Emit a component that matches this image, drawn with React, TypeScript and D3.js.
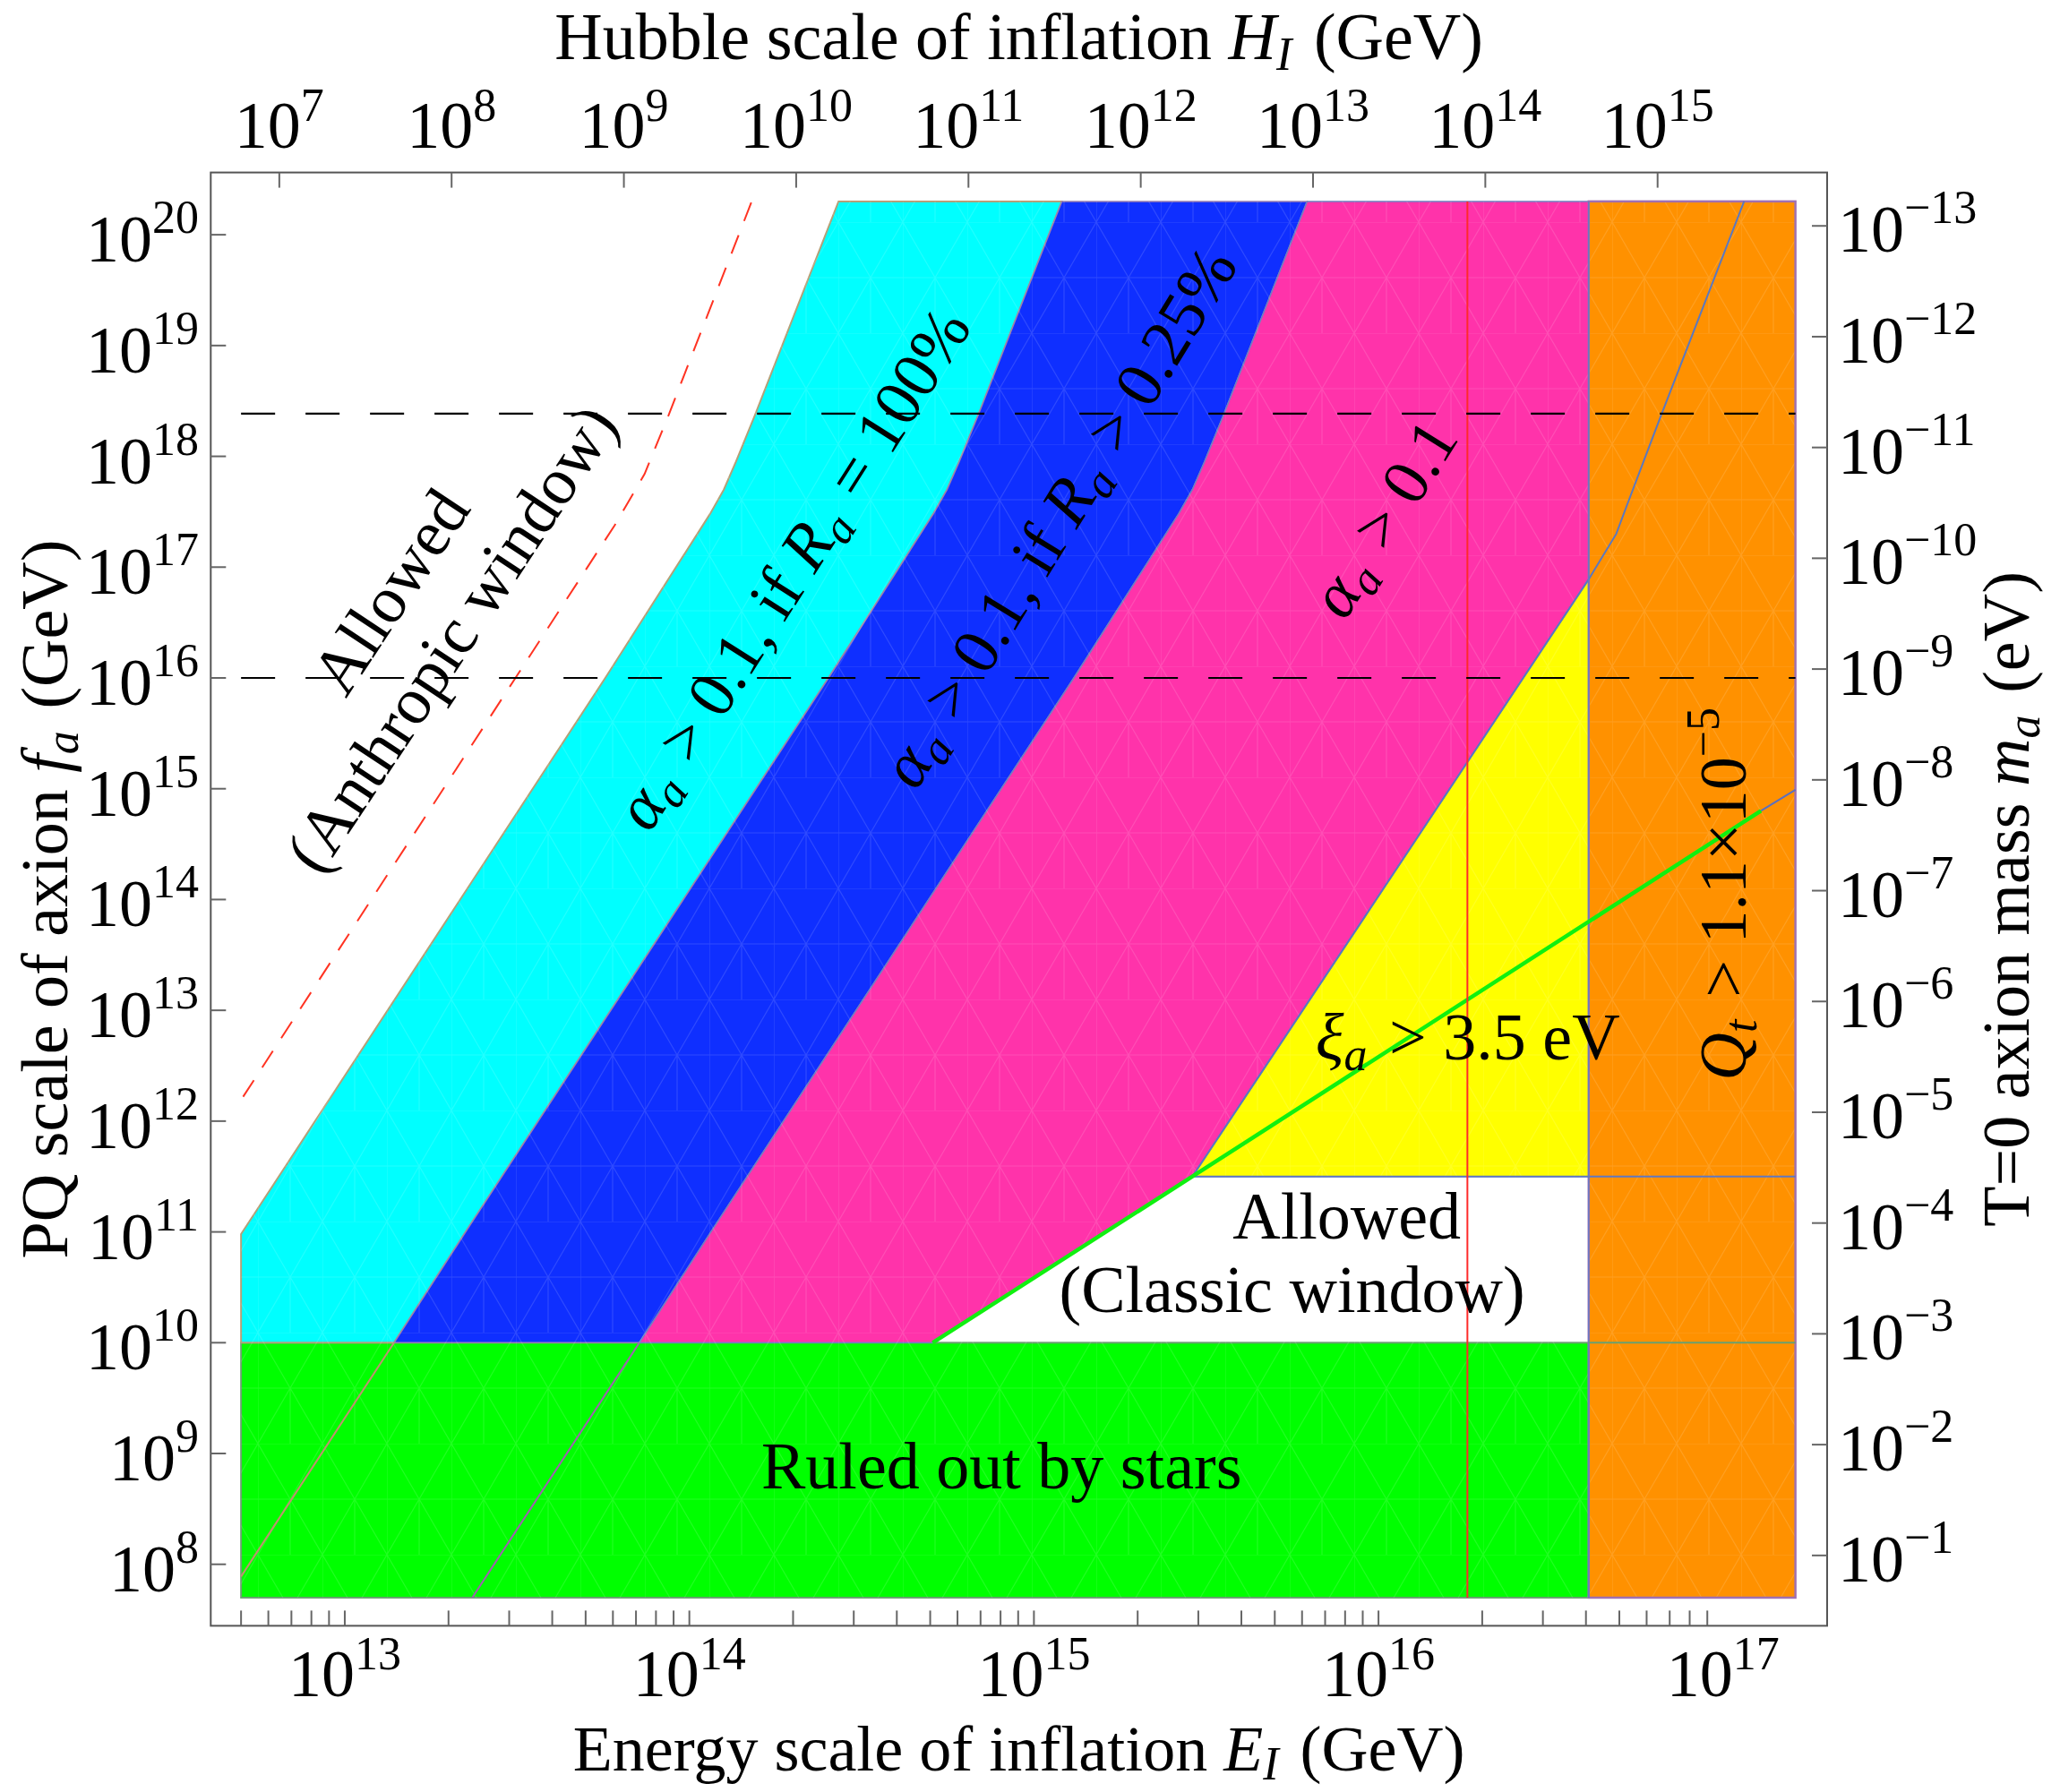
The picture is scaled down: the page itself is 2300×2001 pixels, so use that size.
import * as d3 from "d3";

// frame limits, log10 units
const energyFrame = [12.611, 17.302];
const faFrame = [7.445, 20.562];
// plotted data limits, log10 units
const energyData = [12.699, 17.21];
const faData = [7.699, 20.301];

const energyMajor = [13, 14, 15, 16, 17];
const hubbleMajor = [7, 8, 9, 10, 11, 12, 13, 14, 15];
const faMajor = [8, 9, 10, 11, 12, 13, 14, 15, 16, 17, 18, 19, 20];
const massMajor = [-13, -12, -11, -10, -9, -8, -7, -6, -5, -4, -3, -2, -1];
const hubbleOffset = 18.62; // log E = (log H + 18.62) / 2
const massOffset = 7.08; // log m_a = 7.08 - log f_a

// constraints (log10 E_I, log10 f_a)
const starBound = 10;
const qtBound = 16.61;
const classicTop = 11.5;
const bicepEnergy = 16.258;
const planckFa = 18.386;
const gutFa = 16;

const isoR100 = [[12.699, 10.98], [13.756, 16.0], [14.06, 17.48], [14.1, 17.7], [14.135, 17.95], [14.19, 18.37], [14.433, 20.301]];
const isoR025 = [[12.699, 7.89], [13.143, 10.0], [13.357, 11.03], [14.404, 16.0], [14.708, 17.48], [14.748, 17.7], [14.783, 17.95], [14.838, 18.37], [15.081, 20.301]];
const isoAny = [[13.37, 7.699], [13.855, 10.0], [14.069, 11.03], [15.116, 16.0], [15.42, 17.48], [15.46, 17.7], [15.495, 17.95], [15.55, 18.37], [15.793, 20.301]];
const isoClassic = [[15.46, 11.5], [16.61, 16.89], [16.69, 17.3], [16.72, 17.55], [16.82, 18.37], [17.061, 20.301]];
const xiLine = [[14.706, 10.0], [15.46, 11.5], [17.11, 14.8]];
const xiTail = [[17.11, 14.8], [17.21, 14.99]];
const anthropic = [[12.705, 12.22], [13.783, 17.376], [13.87, 17.84], [13.94, 18.374], [14.181, 20.301]];

const FONT = "Liberation Serif, Times New Roman, serif";
const FS = 74;
const SUP = 52;

export default function App() {
  const x = d3.scaleLog().domain(energyFrame.map((v) => 10 ** v)).range([235.3, 2040]);
  const y = d3.scaleLog().domain(faFrame.map((v) => 10 ** v)).range([1815.4, 192.6]);
  const X = (le: number) => x(10 ** le);
  const Y = (lf: number) => y(10 ** lf);
  const line = d3.line<number[]>().x((d) => X(d[0])).y((d) => Y(d[1]));
  const poly = (pts: number[][]) => (line(pts) || "") + "Z";

  const [e0, e1] = energyData;
  const [f0, f1] = faData;
  const above = (pts: number[][]) => pts.filter((p) => p[1] >= starBound);

  const cyanPts = [[e0, starBound], ...isoR100, ...above(isoR025).reverse()];
  const bluePts = [...above(isoR025), ...above(isoAny).reverse()];
  const classicLeft = isoClassic.filter((p) => p[0] <= qtBound);
  const pinkPts = [
    ...above(isoAny),
    [qtBound, f1],
    ...classicLeft.slice().reverse(),
    [xiLine[0][0], xiLine[0][1]],
  ];
  const yellowPts = [...classicLeft, [qtBound, classicTop]];

  const [fx0, fx1] = x.range();
  const [fy1, fy0] = y.range();

  const minor: number[] = [];
  for (let n = 12; n <= 16; n++) {
    for (let k = 1; k <= 9; k++) {
      const v = k * 10 ** n;
      if (v >= 4.99e12 && v <= 1.01e17) minor.push(v);
    }
  }

  const sub = (s: string, d = 12) => (
    <>
      <tspan fontStyle="italic" fontSize={SUP} dy={d}>{s}</tspan>
      <tspan dy={-d}>{"\u200a"}</tspan>
    </>
  );

  const labelRot = (le: number, lf: number, angle: number, content: any, key: string) => (
    <text
      key={key}
      transform={`translate(${X(le)},${Y(lf)}) rotate(${angle})`}
      textAnchor="middle"
      dy="0.35em"
      fontSize={FS}
      fontFamily={FONT}
    >
      {content}
    </text>
  );

  return (
    <svg width={2300} height={2001} style={{ position: "absolute", left: 0, top: 0, background: "#fff" }}>
      <defs>
        <pattern id="mesh" width={72} height={124} patternUnits="userSpaceOnUse">
          <path d="M0,0H72M0,62H72M0,0V124M0,124L36,62L72,0M0,0L36,62L72,124M36,62V124" stroke="#fff" strokeWidth={1.2} fill="none" />
        </pattern>
        <clipPath id="dataClip">
          <rect x={X(e0)} y={Y(f1)} width={X(e1) - X(e0)} height={Y(f0) - Y(f1)} />
        </clipPath>
      </defs>

      {/* regions */}
      <rect x={X(e0)} y={Y(starBound)} width={X(qtBound) - X(e0)} height={Y(f0) - Y(starBound)} fill="#00ff00" stroke="#6aa070" strokeWidth={2} />
      <path d={poly(cyanPts)} fill="#00ffff" stroke="#b4a078" strokeWidth={2} />
      <path d={poly(bluePts)} fill="#0f2fff" stroke="#9a80b0" strokeWidth={1.5} />
      <path d={poly(pinkPts)} fill="#ff33aa" stroke="#7080c0" strokeWidth={1.5} />
      <path d={poly(yellowPts)} fill="#ffff00" stroke="#6080c0" strokeWidth={1.5} />
      <rect x={X(qtBound)} y={Y(f1)} width={X(e1) - X(qtBound)} height={Y(f0) - Y(f1)} fill="#ff9100" />
      <rect clipPath="url(#dataClip)" x={X(e0)} y={Y(f1)} width={X(e1) - X(e0)} height={Y(f0) - Y(f1)} fill="url(#mesh)" opacity={0.13} />
      <rect x={X(qtBound)} y={Y(f1)} width={X(e1) - X(qtBound)} height={Y(f0) - Y(f1)} fill="none" stroke="#a070b0" strokeWidth={2.5} />

      {/* boundary lines */}
      <path d={line(isoR025.filter((p) => p[1] <= starBound)) || ""} fill="none" stroke="#c09070" strokeWidth={2} />
      <path d={line(isoAny.filter((p) => p[1] <= starBound)) || ""} fill="none" stroke="#a060b0" strokeWidth={2} />
      <path d={line(isoClassic) || ""} fill="none" stroke="#5a78c0" strokeWidth={2} />
      <line x1={X(qtBound)} x2={X(qtBound)} y1={Y(f1)} y2={Y(f0)} stroke="#6a78c0" strokeWidth={1.5} />
      <line x1={X(qtBound)} x2={X(e1)} y1={Y(starBound)} y2={Y(starBound)} stroke="#6aa070" strokeWidth={2} />
      <line x1={X(xiLine[1][0])} x2={X(e1)} y1={Y(classicTop)} y2={Y(classicTop)} stroke="#6078c0" strokeWidth={2} />
      <path d={line(xiTail) || ""} fill="none" stroke="#5a70c0" strokeWidth={2} />
      <path d={line(xiLine) || ""} fill="none" stroke="#10f010" strokeWidth={4.5} />
      <line x1={X(bicepEnergy)} x2={X(bicepEnergy)} y1={Y(f1)} y2={Y(f0)} stroke="#ff2a2a" strokeWidth={2} />
      <path d={line(anthropic) || ""} fill="none" stroke="#ff3322" strokeWidth={2} strokeDasharray="22 17" />
      {[planckFa, gutFa].map((f) => (
        <line key={f} x1={X(e0)} x2={X(e1)} y1={Y(f)} y2={Y(f)} stroke="#000" strokeWidth={2.2} strokeDasharray="38 34" />
      ))}

      {/* in-plot labels */}
      <g fontFamily={FONT} fontSize={FS}>
        {labelRot(13.13, 16.784, -56.5, "Allowed", "a1")}
        {labelRot(13.307, 16.363, -56.5, "(Anthropic window)", "a2")}
        {labelRot(14.297, 16.993, -57.5, (
          <>
            <tspan fontStyle="italic">α</tspan>{sub("a")}<tspan> &gt; 0.1, if </tspan>
            <tspan fontStyle="italic">R</tspan>{sub("a")}<tspan> = 100%</tspan>
          </>
        ), "r1")}
        {labelRot(15.069, 17.46, -58.5, (
          <>
            <tspan fontStyle="italic">α</tspan>{sub("a")}<tspan> &gt; 0.1, if </tspan>
            <tspan fontStyle="italic">R</tspan>{sub("a")}<tspan> &gt; 0.25%</tspan>
          </>
        ), "r2")}
        {labelRot(16.012, 17.446, -58, (
          <>
            <tspan fontStyle="italic">α</tspan>{sub("a")}<tspan> &gt; 0.1</tspan>
          </>
        ), "r3")}
        {labelRot(16.997, 14.05, -90, (
          <>
            <tspan fontStyle="italic">Q</tspan>{sub("t")}<tspan> &gt; 1.1×10</tspan>
            <tspan fontSize={SUP} dy={-30}>−5</tspan>
          </>
        ), "q")}
        <text x={X(15.817)} y={Y(12.557)}>
          <tspan fontStyle="italic">ξ</tspan>{sub("a")}<tspan> &gt; 3.5 eV</tspan>
        </text>
        <text x={X(15.908)} y={Y(10.94)} textAnchor="middle">Allowed</text>
        <text x={X(15.749)} y={Y(10.277)} textAnchor="middle">(Classic window)</text>
        <text x={X(14.906)} y={Y(8.685)} textAnchor="middle">Ruled out by stars</text>
      </g>

      {/* frame */}
      <rect x={fx0} y={fy0} width={fx1 - fx0} height={fy1 - fy0} fill="none" stroke="#555" strokeWidth={2} />

      {/* ticks */}
      <g stroke="#666" strokeWidth={2}>
        {minor.map((v) => (
          <line key={"b" + v} x1={x(v)} x2={x(v)} y1={fy1} y2={fy1 - 17} />
        ))}
        {hubbleMajor.map((n) => {
          const xx = X((n + hubbleOffset) / 2);
          return <line key={"t" + n} x1={xx} x2={xx} y1={fy0} y2={fy0 + 17} />;
        })}
        {faMajor.map((n) => (
          <line key={"l" + n} x1={fx0} x2={fx0 + 17} y1={Y(n)} y2={Y(n)} />
        ))}
        {massMajor.map((n) => (
          <line key={"r" + n} x1={fx1} x2={fx1 - 17} y1={Y(massOffset - n)} y2={Y(massOffset - n)} />
        ))}
      </g>

      {/* tick labels */}
      <g fontFamily={FONT} fontSize={FS} fill="#000">
        {energyMajor.map((n) => (
          <text key={"be" + n} x={X(n)} y={fy1 + 79} textAnchor="middle">
            10<tspan fontSize={SUP} dy={-30}>{n}</tspan>
          </text>
        ))}
        {hubbleMajor.map((n) => (
          <text key={"th" + n} x={X((n + hubbleOffset) / 2)} y={fy0 - 28} textAnchor="middle">
            10<tspan fontSize={SUP} dy={-30}>{n}</tspan>
          </text>
        ))}
        {faMajor.map((n) => (
          <text key={"lf" + n} x={222} y={Y(n) + 30} textAnchor="end">
            10<tspan fontSize={SUP} dy={-32}>{n}</tspan>
          </text>
        ))}
        {massMajor.map((n) => (
          <text key={"rm" + n} x={2052} y={Y(massOffset - n) + 29} textAnchor="start">
            10<tspan fontSize={SUP} dy={-32}>{"−" + Math.abs(n)}</tspan>
          </text>
        ))}
      </g>

      {/* axis titles */}
      <g fontFamily={FONT} fontSize={FS}>
        <text x={(fx0 + fx1) / 2} y={66} textAnchor="middle">
          Hubble scale of inflation <tspan fontStyle="italic">H</tspan>{sub("I")}<tspan> (GeV)</tspan>
        </text>
        <text x={(fx0 + fx1) / 2} y={1977} textAnchor="middle" fontSize={72}>
          Energy scale of inflation <tspan fontStyle="italic">E</tspan>{sub("I", 10)}<tspan> (GeV)</tspan>
        </text>
        <text transform={`translate(75,${(fy0 + fy1) / 2}) rotate(-90)`} textAnchor="middle">
          PQ scale of axion <tspan fontStyle="italic">f</tspan>{sub("a")}<tspan> (GeV)</tspan>
        </text>
        <text transform={`translate(2265,${(fy0 + fy1) / 2}) rotate(-90)`} textAnchor="middle">
          T=0 axion mass <tspan fontStyle="italic">m</tspan>{sub("a")}<tspan> (eV)</tspan>
        </text>
      </g>
    </svg>
  );
}
